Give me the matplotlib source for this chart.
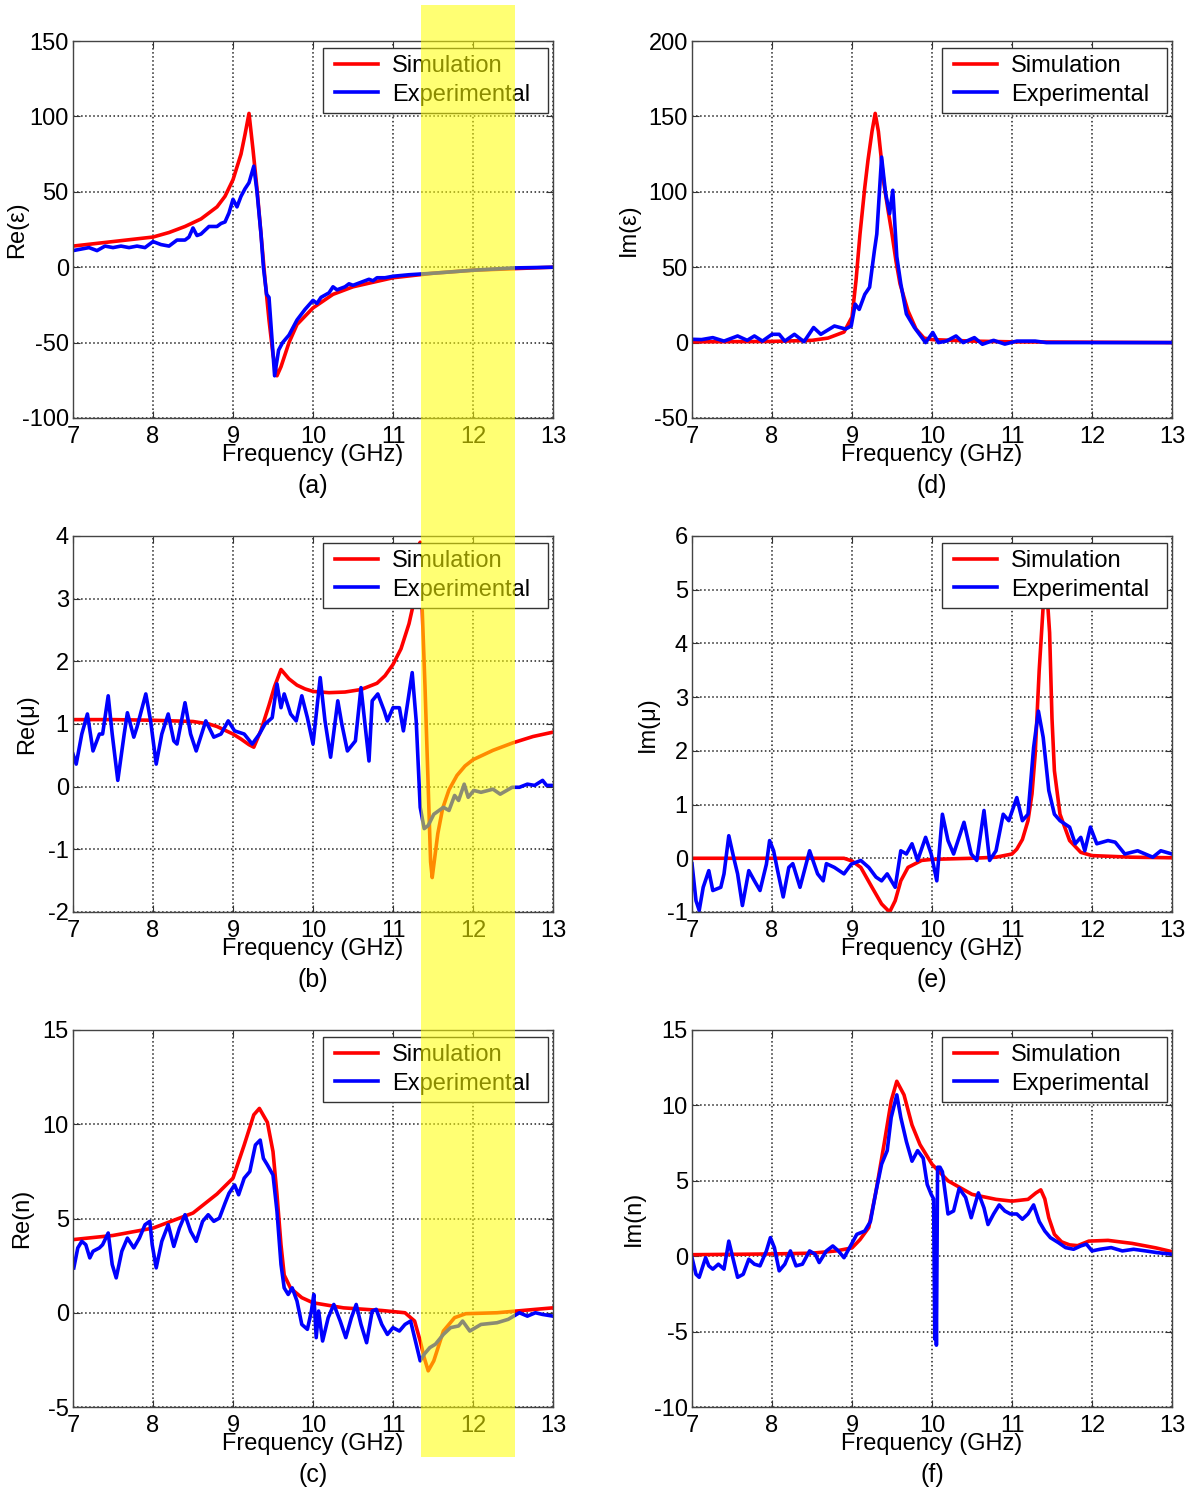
import matplotlib
matplotlib.use("Agg")
import matplotlib.pyplot as plt
import matplotlib.transforms as mtransforms
from matplotlib.patches import Rectangle
from matplotlib.lines import Line2D
from matplotlib.legend_handler import HandlerLine2D

plt.rcParams['font.family'] = ['Liberation Sans', 'DejaVu Sans']
plt.rcParams['font.size'] = 17
plt.rcParams['axes.unicode_minus'] = False

# ---- (a) Re(eps) ----
re_eps_sim_f = [7.0, 7.5, 8.0, 8.2, 8.4, 8.6, 8.8, 8.9, 9.0, 9.1, 9.15, 9.2, 9.25, 9.3, 9.35,
                9.4, 9.45, 9.5, 9.55, 9.6, 9.7, 9.8, 10.0, 10.25, 10.5, 11.0, 11.5, 12.0, 12.5, 13.0]
re_eps_sim_v = [14, 17, 20, 23, 27, 32, 40, 47, 58, 75, 88, 102, 78, 52, 22,
                -8, -35, -58, -72, -66, -50, -38, -27, -18, -13, -7, -4, -2, -1, 0]
re_eps_exp_f = [7.0, 7.1, 7.2, 7.3, 7.4, 7.5, 7.6, 7.7, 7.8, 7.9, 8.0, 8.05, 8.1, 8.2, 8.3, 8.4,
                8.45, 8.5, 8.55, 8.6, 8.7, 8.8, 8.85, 8.9, 8.95, 9.0, 9.05, 9.1, 9.15, 9.2, 9.26,
                9.3, 9.35, 9.38, 9.42, 9.45, 9.52, 9.57, 9.62, 9.7, 9.8, 9.9, 9.95, 10.0, 10.05,
                10.1, 10.2, 10.25, 10.3, 10.4, 10.45, 10.5, 10.6, 10.7, 10.75, 10.8, 10.9, 11.0,
                11.2, 11.5, 12.0, 12.5, 13.0]
re_eps_exp_v = [11, 12, 13, 11, 14, 13, 14, 13, 14, 13, 17, 16, 15, 14, 18, 18,
                20, 26, 21, 22, 27, 27, 29, 30, 36, 45, 40, 47, 52, 56, 67,
                50, 22, 0, -18, -20, -72, -55, -50, -45, -35, -28, -25, -22, -24,
                -20, -17, -13, -15, -13, -11, -12, -10, -8, -9, -7, -7, -6,
                -5, -4, -2, -0.5, 0]

# ---- (b) Re(mu) ----
re_mu_sim_f = [7.0, 7.5, 8.0, 8.5, 8.7, 8.8, 8.9, 9.0, 9.1, 9.2, 9.26, 9.35, 9.45, 9.52, 9.6,
               9.7, 9.8, 9.9, 10.0, 10.2, 10.4, 10.6, 10.8, 10.9, 11.0, 11.1, 11.2, 11.27, 11.31,
               11.34, 11.36, 11.4, 11.44, 11.47, 11.49, 11.52, 11.56, 11.62, 11.7, 11.8, 11.9,
               12.0, 12.25, 12.5, 12.75, 13.0]
re_mu_sim_v = [1.07, 1.07, 1.06, 1.04, 1.0, 0.96, 0.9, 0.84, 0.76, 0.67, 0.63, 0.9, 1.3, 1.6, 1.87,
               1.72, 1.62, 1.56, 1.52, 1.5, 1.51, 1.55, 1.65, 1.77, 1.95, 2.2, 2.6, 3.0, 3.6,
               3.9, 3.0, 1.6, 0.0, -1.2, -1.45, -1.15, -0.75, -0.35, -0.05, 0.18, 0.33,
               0.43, 0.58, 0.7, 0.8, 0.87]
re_mu_exp_f = [7.0, 7.04, 7.11, 7.18, 7.25, 7.33, 7.37, 7.44, 7.49, 7.56, 7.64, 7.68, 7.76, 7.8,
               7.91, 7.97, 8.04, 8.11, 8.19, 8.26, 8.3, 8.4, 8.47, 8.54, 8.66, 8.76, 8.85, 8.94,
               9.02, 9.14, 9.24, 9.33, 9.4, 9.49, 9.55, 9.6, 9.64, 9.72, 9.79, 9.86, 9.93, 10.0,
               10.09, 10.15, 10.22, 10.31, 10.36, 10.43, 10.53, 10.6, 10.7, 10.74, 10.81, 10.89,
               10.93, 11.0, 11.08, 11.13, 11.24, 11.29, 11.34, 11.39, 11.44, 11.51, 11.63, 11.7,
               11.77, 11.82, 11.89, 11.94, 12.01, 12.1, 12.25, 12.34, 12.49, 12.58, 12.68, 12.77,
               12.87, 12.92, 13.0]
re_mu_exp_v = [0.52, 0.36, 0.84, 1.16, 0.57, 0.84, 0.84, 1.45, 0.84, 0.1, 0.84, 1.18, 0.79, 0.95,
               1.48, 1.05, 0.36, 0.84, 1.16, 0.73, 0.68, 1.34, 0.84, 0.57, 1.05, 0.79, 0.84, 1.05,
               0.89, 0.84, 0.68, 0.84, 1.0, 1.1, 1.64, 1.26, 1.48, 1.16, 1.05, 1.45, 1.1, 0.68,
               1.74, 1.05, 0.47, 1.37, 1.0, 0.57, 0.73, 1.58, 0.41, 1.37, 1.48, 1.21,
               1.05, 1.26, 1.26, 0.89, 1.82, 1.05, -0.33, -0.67, -0.62, -0.44, -0.33, -0.38,
               -0.14, -0.22, 0.04, -0.17, -0.06, -0.09, -0.04, -0.12, -0.01, -0.01, 0.04, 0.02,
               0.1, 0.02, 0.02]

# ---- (c) Re(n) ----
re_n_sim_f = [7.0, 7.5, 8.0, 8.5, 8.8, 9.0, 9.14, 9.26, 9.33, 9.43, 9.5, 9.55, 9.6, 9.64, 9.72,
              9.86, 10.0, 10.38, 10.86, 11.15, 11.27, 11.34, 11.39, 11.44, 11.51, 11.63, 11.77,
              11.91, 12.3, 12.78, 13.0]
re_n_sim_v = [3.88, 4.1, 4.49, 5.29, 6.3, 7.14, 8.9, 10.5, 10.84, 10.1, 8.55, 6.26, 3.6, 2.0, 1.3,
              0.8, 0.53, 0.26, 0.12, 0.0, -0.44, -1.5, -2.38, -3.08, -2.55, -0.97, -0.26,
              -0.05, 0.0, 0.18, 0.26]
re_n_exp_f = [7.01, 7.06, 7.11, 7.16, 7.21, 7.25, 7.33, 7.37, 7.44, 7.49, 7.54, 7.61, 7.68, 7.76,
              7.83, 7.9, 7.96, 7.99, 8.04, 8.11, 8.19, 8.26, 8.33, 8.4, 8.47, 8.54, 8.62, 8.69,
              8.76, 8.83, 8.9, 8.95, 9.02, 9.07, 9.14, 9.21, 9.28, 9.34, 9.38, 9.43, 9.5, 9.55,
              9.6, 9.64, 9.69, 9.74, 9.8, 9.86, 9.93, 9.98, 10.01, 10.04, 10.07, 10.12, 10.19,
              10.26, 10.34, 10.41, 10.48, 10.54, 10.6, 10.67, 10.74, 10.79, 10.86, 10.93, 11.0,
              11.08, 11.15, 11.22, 11.29, 11.34, 11.39, 11.46, 11.53, 11.63, 11.72, 11.82, 11.87,
              11.96, 12.1, 12.3, 12.44, 12.58, 12.68, 12.78, 12.87, 13.0]
re_n_exp_v = [2.38, 3.44, 3.79, 3.61, 2.91, 3.26, 3.44, 3.61, 4.23, 2.56, 1.85, 3.26, 3.96, 3.44,
              3.96, 4.67, 4.85, 3.61, 2.38, 3.79, 4.67, 3.52, 4.49, 5.2, 4.32, 3.79, 4.85, 5.2,
              4.85, 5.02, 5.81, 6.34, 6.78, 6.26, 7.14, 7.49, 8.9, 9.16, 8.19, 7.84, 7.31, 5.37,
              2.56, 1.32, 0.97, 1.32, 0.62, -0.62, -0.88, 0.09, 0.97, -1.32, 0.09, -1.5, -0.26,
              0.44, -0.44, -1.32, -0.26, 0.44, -0.62, -1.59, 0.09, 0.18, -0.62, -1.15, -0.79,
              -0.97, -0.62, -0.44, -1.67, -2.55, -2.2, -1.85, -1.67, -1.15, -0.79, -0.7, -0.44,
              -0.97, -0.62, -0.53, -0.35, 0.0, -0.18, 0.0, -0.09, -0.18]

# ---- (d) Im(eps) ----
im_eps_sim_f = [7.0, 8.0, 8.5, 8.7, 8.9, 9.0, 9.05, 9.1, 9.16, 9.2, 9.25, 9.29, 9.33, 9.4, 9.45,
                9.5, 9.55, 9.6, 9.7, 9.8, 9.9, 10.0, 10.5, 11.0, 13.0]
im_eps_sim_v = [0.5, 0.8, 1.5, 3, 7, 17, 41, 72, 103, 121, 140, 152, 140, 105, 88,
                72, 54, 39, 21, 9, 3, 2, 1, 0.5, 0]
im_eps_exp_f = [7.0, 7.12, 7.26, 7.4, 7.57, 7.69, 7.78, 7.88, 8.0, 8.09, 8.16, 8.28, 8.4, 8.52,
                8.61, 8.78, 8.92, 8.99, 9.04, 9.09, 9.16, 9.22, 9.28, 9.31, 9.37, 9.42, 9.47,
                9.51, 9.56, 9.61, 9.68, 9.78, 9.92, 10.01, 10.08, 10.18, 10.3, 10.39, 10.53,
                10.63, 10.77, 10.91, 11.06, 11.29, 11.43, 12.0, 13.0]
im_eps_exp_v = [2.2, 2, 3.3, 1, 4.4, 1.5, 4.4, 1, 5.5, 5.5, 1, 5.5, 0.6, 10,
                5.5, 11, 9, 11, 25.5, 22, 32, 36.7, 61, 72, 123, 99, 85.5,
                101, 57, 39, 19, 10, 0, 6.7, 0, 1, 4.4, 0, 3.3,
                -1.1, 1.5, -1, 1, 1, 0, 0, 0]

# ---- (e) Im(mu) ----
im_mu_sim_f = [7.0, 8.9, 9.0, 9.11, 9.25, 9.37, 9.47, 9.54, 9.61, 9.7, 9.87, 10.0, 10.5, 10.8,
               11.0, 11.06, 11.13, 11.2, 11.25, 11.29, 11.34, 11.39, 11.43, 11.47, 11.5, 11.53,
               11.6, 11.72, 11.86, 12.0, 12.5, 13.0]
im_mu_sim_v = [0.0, 0.0, -0.05, -0.17, -0.54, -0.85, -1.0, -0.79, -0.42, -0.17, -0.04, -0.02,
               0.0, 0.02, 0.08, 0.17, 0.35, 0.7, 1.2, 1.94, 3.5, 4.7, 5.1, 4.2, 2.6, 1.63,
               0.82, 0.33, 0.11, 0.05, 0.02, 0.01]
im_mu_exp_f = [7.0, 7.05, 7.09, 7.14, 7.21, 7.26, 7.36, 7.4, 7.46, 7.52, 7.57, 7.63, 7.71, 7.78,
               7.85, 7.93, 7.97, 8.02, 8.07, 8.14, 8.21, 8.26, 8.35, 8.47, 8.57, 8.64, 8.68,
               8.78, 8.9, 8.99, 9.11, 9.21, 9.3, 9.37, 9.44, 9.54, 9.61, 9.68, 9.75, 9.82, 9.92,
               9.99, 10.06, 10.13, 10.2, 10.27, 10.4, 10.49, 10.56, 10.65, 10.72, 10.8, 10.89,
               10.96, 11.06, 11.13, 11.2, 11.27, 11.33, 11.39, 11.46, 11.53, 11.6, 11.72, 11.79,
               11.86, 11.91, 11.98, 12.06, 12.2, 12.29, 12.41, 12.57, 12.76, 12.86, 13.0]
im_mu_exp_v = [-0.1, -0.79, -0.97, -0.54, -0.23, -0.6, -0.54, -0.29, 0.42, 0.02, -0.29, -0.88,
               -0.23, -0.42, -0.6, -0.11, 0.33, 0.14, -0.23, -0.72, -0.17, -0.1, -0.54, 0.14,
               -0.29, -0.42, -0.1, -0.17, -0.29, -0.11, -0.04, -0.17, -0.35, -0.42, -0.29, -0.54,
               0.14, 0.08, 0.27, -0.04, 0.39, 0.08, -0.42, 0.82, 0.33, 0.08, 0.67, 0.08, -0.04,
               0.89, -0.04, 0.14, 0.82, 0.7, 1.13, 0.7, 0.82, 2.06, 2.74, 2.25, 1.26, 0.82, 0.7,
               0.58, 0.27, 0.39, 0.14, 0.58, 0.27, 0.33, 0.3, 0.08, 0.14, 0.02, 0.14, 0.08]

# ---- (f) Im(n) ----
im_n_sim_f = [7.0, 8.0, 8.5, 8.8, 9.0, 9.1, 9.21, 9.3, 9.4, 9.49, 9.56, 9.65, 9.75, 9.85, 10.0,
              10.2, 10.5, 10.8, 11.0, 11.2, 11.3, 11.36, 11.41, 11.46, 11.53, 11.62, 11.72, 11.82,
              11.96, 12.2, 12.5, 12.8, 13.0]
im_n_sim_v = [0.1, 0.15, 0.2, 0.35, 0.55, 1.1, 1.9, 4.3, 7.4, 10.3, 11.6, 10.7, 8.7, 7.4, 6.1,
              5.0, 4.1, 3.77, 3.65, 3.77, 4.2, 4.4, 3.8, 2.55, 1.45, 0.95, 0.75, 0.7,
              1.0, 1.05, 0.85, 0.55, 0.3]
im_n_exp_f = [7.0, 7.05, 7.09, 7.17, 7.21, 7.26, 7.33, 7.4, 7.46, 7.51, 7.57, 7.64, 7.71, 7.78,
              7.85, 7.93, 7.98, 8.03, 8.09, 8.16, 8.23, 8.3, 8.38, 8.47, 8.54, 8.59, 8.68, 8.76,
              8.83, 8.9, 8.97, 9.06, 9.16, 9.23, 9.3, 9.37, 9.44, 9.49, 9.56, 9.61, 9.68, 9.75,
              9.82, 9.89, 9.94, 9.99, 10.02, 10.035, 10.045, 10.055, 10.07, 10.1, 10.13, 10.2,
              10.27, 10.34, 10.42, 10.49, 10.58, 10.65, 10.7, 10.77, 10.84, 10.91, 10.98, 11.06,
              11.13, 11.2, 11.27, 11.34, 11.41, 11.48, 11.58, 11.67, 11.77, 11.86, 11.93, 12.0,
              12.1, 12.24, 12.38, 12.52, 12.67, 12.81, 13.0]
im_n_exp_v = [-0.1, -1.2, -1.4, -0.1, -0.64, -0.86, -0.53, -0.86, 1.0, -0.1, -1.4, -1.2, -0.2,
              -0.53, -0.64, 0.35, 1.23, 0.57, -0.97, -0.53, 0.35, -0.64, -0.53, 0.35, 0.13, -0.42,
              0.35, 0.68, 0.35, -0.1, 0.57, 1.45, 1.67, 2.3, 4.3, 6.1, 7.0, 9.2, 10.7, 9.2, 7.6,
              6.3, 7.0, 6.5, 4.76, 4.1, 3.8, -5.5, 0.5, -5.9, 5.9, 5.9, 5.6, 2.8,
              3.0, 4.5, 3.9, 2.55, 4.2, 3.2, 2.1, 2.8, 3.4, 3.0, 2.8, 2.8,
              2.45, 2.8, 3.4, 2.3, 1.67, 1.23, 0.9, 0.57, 0.46, 0.68, 0.8, 0.35,
              0.46, 0.57, 0.35, 0.46, 0.35, 0.24, 0.13]

freq_ticks = [7, 8, 9, 10, 11, 12, 13]

W, H = 1194, 1495
fig = plt.figure(figsize=(W / 100, H / 100), dpi=100)


def px_axes(left, top, right, bottom):
    return fig.add_axes([left / W, 1 - bottom / H, (right - left) / W, (bottom - top) / H])


def draw_panel(ax, sf, sv, ef, ev, ylim, ystep, ylabel, ylab_x, letter):
    ax.plot(sf, sv, color='#ff0000', lw=2.6, label='Simulation')
    ax.plot(ef, ev, color='#0000ff', lw=2.6, label='Experimental')
    ax.set_xlim(7, 13)
    ax.set_ylim(*ylim)
    ax.set_xticks(freq_ticks)
    ax.set_yticks(list(range(ylim[0], ylim[1] + 1, ystep)))
    ax.grid(True, linestyle=':', color='#222222', linewidth=1.1)
    ax.tick_params(direction='in', length=5, top=True, right=True,
                   labelsize=17, color='#333333')
    ax.tick_params(axis='x', pad=6)
    ax.tick_params(axis='y', pad=3)
    for s in ax.spines.values():
        s.set_color('#444444')
        s.set_linewidth(1.0)
    ax.set_xlabel('Frequency (GHz)', fontsize=17, labelpad=-3)
    ax.set_ylabel(ylabel, fontsize=17)
    ax.yaxis.set_label_coords(ylab_x, 0.5)
    ax.text(0.5, -0.18, letter, transform=ax.transAxes, ha='center', va='center', fontsize=18)
    # legend box: 225 px wide, top-right corner inset like the original
    leg = ax.legend(loc='upper left', mode='expand',
                    bbox_to_anchor=(250 / 480, 0, 225 / 480, 1 - 7 / 377),
                    borderaxespad=0, fancybox=False, edgecolor='#333333', framealpha=1,
                    handlelength=2.03, handletextpad=0.6, labelspacing=0.28, borderpad=0.3,
                    fontsize=17, handler_map={Line2D: HandlerLine2D(xpad=0.21)})
    leg.get_frame().set_linewidth(1.0)


ax_a = px_axes(73, 41, 553, 418)
ax_b = px_axes(73, 536, 553, 912)
ax_c = px_axes(73, 1030, 553, 1407)
ax_d = px_axes(692, 41, 1172, 418)
ax_e = px_axes(692, 536, 1172, 912)
ax_f = px_axes(692, 1030, 1172, 1407)

draw_panel(ax_a, re_eps_sim_f, re_eps_sim_v, re_eps_exp_f, re_eps_exp_v, (-100, 150), 50, 'Re(ε)', -0.094, '(a)')
draw_panel(ax_b, re_mu_sim_f, re_mu_sim_v, re_mu_exp_f, re_mu_exp_v, (-2, 4), 1, 'Re(μ)', -0.073, '(b)')
draw_panel(ax_c, re_n_sim_f, re_n_sim_v, re_n_exp_f, re_n_exp_v, (-5, 15), 5, 'Re(n)', -0.083, '(c)')
draw_panel(ax_d, im_eps_sim_f, im_eps_sim_v, im_eps_exp_f, im_eps_exp_v, (-50, 200), 50, 'Im(ε)', -0.108, '(d)')
draw_panel(ax_e, im_mu_sim_f, im_mu_sim_v, im_mu_exp_f, im_mu_exp_v, (-1, 6), 1, 'Im(μ)', -0.069, '(e)')
draw_panel(ax_f, im_n_sim_f, im_n_sim_v, im_n_exp_f, im_n_exp_v, (-10, 15), 5, 'Im(n)', -0.098, '(f)')

# highlighted band over the left column (data x, figure y)
band = mtransforms.blended_transform_factory(ax_a.transData, fig.transFigure)
fig.add_artist(Rectangle((11.35, 1 - 1457 / H), 1.17, (1457 - 5) / H, transform=band,
                         facecolor='#ffff00', edgecolor='none', alpha=0.55, zorder=10))

fig.savefig('out.png', dpi=100)
